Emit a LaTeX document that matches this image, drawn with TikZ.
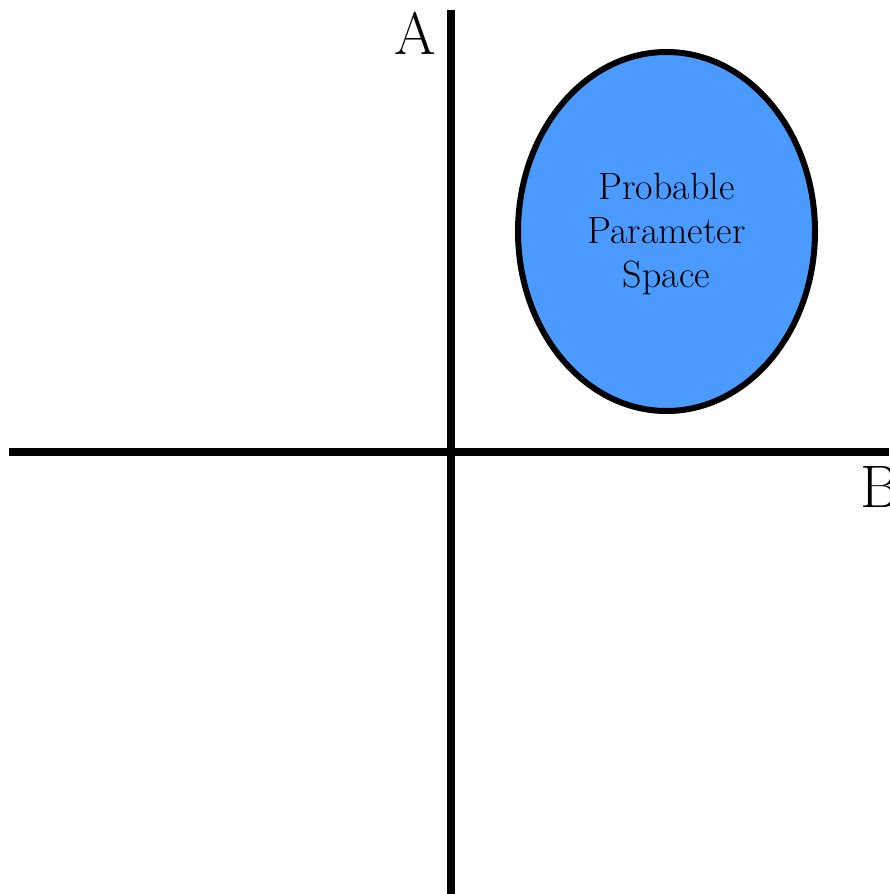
\documentclass[tikz,border=0pt]{standalone}
\usepackage{tikz}
\usetikzlibrary{shapes.geometric}
\definecolor{probblue}{RGB}{74,154,255}

\begin{document}
\begin{tikzpicture}[x=1pt,y=-1pt]
            \useasboundingbox (0,0) rectangle (889,894);
            \coordinate (Atop) at (451,10);
            \coordinate (Abot) at (451,894);
            \coordinate (Bleft) at (9,452);
            \coordinate (Bright) at (889,452);
            \draw[line width=7.5pt] (Atop)--(Abot);
            \draw[line width=8pt] (Bleft)--(Bright);
            \draw (415,33) node[font=\fontsize{60}{60}\selectfont] (A) {A};
            \draw (874,487) node[font=\fontsize{60}{60}\selectfont,anchor=west,xshift=-17pt] (B) {B};

            \draw (666.5,231.5) node[ellipse,draw,line width=6pt,fill=probblue,
            minimum width=297pt,minimum height=359pt,inner sep=0pt] (P) {};
            \draw (666.5,234) node[align=center,font=\fontsize{38}{44}\selectfont] (L)
            {Probable\\Parameter\\Space};
\end{tikzpicture}
\end{document}
